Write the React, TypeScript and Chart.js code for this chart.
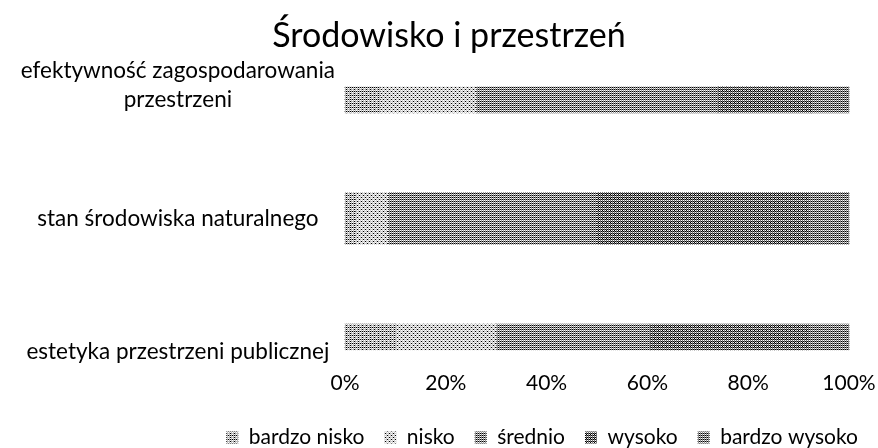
import React, { useEffect, useRef } from 'react';
import { Chart, registerables } from 'chart.js';

Chart.register(...registerables);

const categories: (string | string[])[] = [
  ['efektywność zagospodarowania', 'przestrzeni', ''],
  'stan środowiska naturalnego',
  ['', 'estetyka przestrzeni publicznej'],
];
const seriesNames = ['bardzo nisko', 'nisko', 'średnio', 'wysoko', 'bardzo wysoko'];
const bardzoNisko = [7, 2, 10];
const nisko = [19, 6.5, 20];
const srednio = [48, 41.5, 30.5];
const wysoko = [18.5, 42, 31.5];
const bardzoWysoko = [7.5, 8, 8];
const xTicks = [0, 20, 40, 60, 80, 100];
const thickCategory = 1;

const FONT = 'Lato';
const W = 878;
const H = 448;

const BAYER = [
  [0, 8, 2, 10],
  [12, 4, 14, 6],
  [3, 11, 1, 9],
  [15, 7, 13, 5],
];

function makePattern(base: number, white: number, black: number, shift: number): CanvasPattern | string {
  const c = document.createElement('canvas');
  c.width = 4;
  c.height = 4;
  const g = c.getContext('2d');
  if (!g) return `rgb(${base},${base},${base})`;
  for (let y = 0; y < 4; y++) {
    for (let x = 0; x < 4; x++) {
      const v = BAYER[y][(x + shift) % 4];
      let col = `rgb(${base},${base},${base})`;
      if (v < white) col = '#ffffff';
      else if (v >= 16 - black) col = '#000000';
      g.fillStyle = col;
      g.fillRect(x, y, 1, 1);
    }
  }
  const p = g.createPattern(c, 'repeat');
  return p || `rgb(${base},${base},${base})`;
}

export default function App() {
  const ref = useRef<HTMLCanvasElement | null>(null);

  useEffect(() => {
    if (!ref.current) return;
    const fills = [
      makePattern(185, 4, 3, 0),
      makePattern(205, 4, 2, 1),
      makePattern(150, 4, 4, 2),
      makePattern(118, 4, 5, 3),
      makePattern(140, 4, 4, 1),
    ];
    const allSeries = [bardzoNisko, nisko, srednio, wysoko, bardzoWysoko];
    const datasets: any[] = [];
    allSeries.forEach((vals, si) => {
      datasets.push({
        label: seriesNames[si],
        data: vals.map((v, i) => (i === thickCategory ? null : v)),
        backgroundColor: fills[si],
        borderWidth: 0,
        barThickness: 26,
        stack: 's',
        clip: false,
      });
    });
    allSeries.forEach((vals, si) => {
      datasets.push({
        label: seriesNames[si] + '_b',
        data: vals.map((v, i) => (i === thickCategory ? v : null)),
        backgroundColor: fills[si],
        borderWidth: 0,
        barThickness: 52,
        stack: 's',
        clip: false,
      });
    });

    const chart = new Chart(ref.current, {
      type: 'bar',
      data: { labels: categories, datasets },
      options: {
        indexAxis: 'y',
        animation: false,
        responsive: false,
        maintainAspectRatio: false,
        layout: { padding: { left: 20, right: 0, top: 0, bottom: -10 } },
        scales: {
          x: {
            stacked: true,
            min: 0,
            max: 100,
            afterBuildTicks: (scale: any) => {
              scale.ticks = xTicks.map((v) => ({ value: v }));
            },
            afterFit: (scale: any) => {
              scale.height = 70;
              scale.paddingLeft = 0;
              scale.paddingRight = 29;
            },
            grid: { display: false, drawTicks: false },
            border: { display: false },
            ticks: {
              padding: 34,
              color: '#000',
              font: { family: FONT, size: 21 },
              callback: (v: any) => v + '%',
            },
          },
          y: {
            type: 'category',
            stacked: true,
            offset: false,
            afterFit: (scale: any) => {
              scale.width = 325;
            },
            grid: { display: false, drawTicks: false },
            border: { display: false },
            ticks: {
              crossAlign: 'center',
              padding: 10,
              color: '#000',
              font: { family: FONT, size: 22.5, lineHeight: 1.3 },
            },
          },
        },
        plugins: {
          title: {
            display: true,
            text: 'Środowisko i przestrzeń',
            color: '#000',
            font: { family: FONT, size: 34, weight: 'normal' },
            padding: { top: 16, bottom: 43 },
          },
          legend: {
            position: 'bottom',
            align: 'end',
            labels: {
              boxWidth: 12,
              boxHeight: 12,
              padding: 20,
              color: '#000',
              font: { family: FONT, size: 21 },
              filter: (item: any) => item.datasetIndex < 5,
            },
          },
          tooltip: { enabled: false },
        },
      },
    });
    return () => chart.destroy();
  }, []);

  return (
    <div style={{ position: 'fixed', left: 0, top: 0, width: W, height: H, background: '#fff' }}>
      <canvas ref={ref} width={W} height={H} style={{ display: 'block', width: W, height: H }} />
    </div>
  );
}
